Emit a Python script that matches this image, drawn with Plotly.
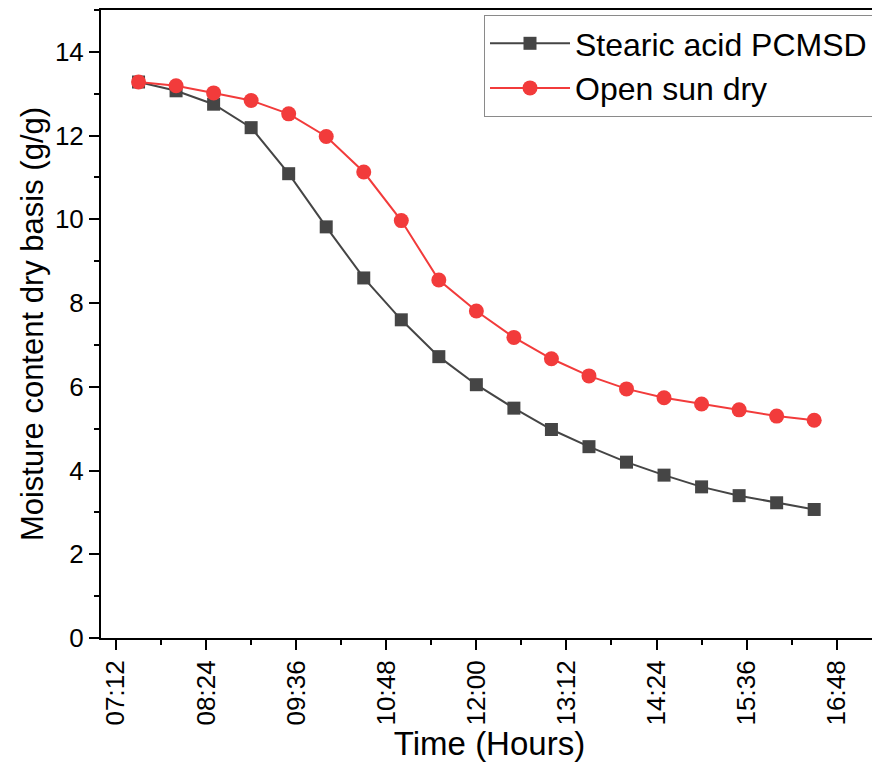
import plotly.graph_objects as go

times = ["07:30", "08:00", "08:30", "09:00", "09:30", "10:00", "10:30", "11:00", "11:30", "12:00",
         "12:30", "13:00", "13:30", "14:00", "14:30", "15:00", "15:30", "16:00", "16:30"]
stearic_pcmsd = [13.28, 13.07, 12.75, 12.19, 11.09, 9.82, 8.60, 7.60, 6.72, 6.05,
                 5.49, 4.98, 4.57, 4.20, 3.89, 3.61, 3.40, 3.23, 3.07]
open_sun = [13.28, 13.19, 13.02, 12.84, 12.52, 11.98, 11.13, 9.97, 8.55, 7.81,
            7.18, 6.67, 6.26, 5.95, 5.74, 5.59, 5.45, 5.30, 5.20]

DAY = "2020-01-01 "
x = [DAY + t for t in times]

FONT = "Liberation Sans, Arial, sans-serif"

fig = go.Figure()
fig.add_trace(go.Scatter(
    x=x, y=stearic_pcmsd, name="Stearic acid PCMSD", mode="lines+markers",
    line=dict(color="#454545", width=2),
    marker=dict(symbol="square", size=13, color="#454545"),
))
fig.add_trace(go.Scatter(
    x=x, y=open_sun, name="Open sun dry", mode="lines+markers",
    line=dict(color="#F23B3B", width=2),
    marker=dict(symbol="circle", size=15, color="#F23B3B"),
))

# page body has an 8px default margin, so the figure is sized/offset to compensate
fig.update_layout(
    width=872, height=761,
    margin=dict(l=93, r=2, t=2, b=131, autoexpand=False),
    paper_bgcolor="white", plot_bgcolor="white",
    font=dict(family=FONT, color="black"),
    showlegend=True,
    legend=dict(
        x=1 - 5 / 777, xanchor="right", y=1 - 5 / 628, yanchor="top",
        bgcolor="white", bordercolor="#8a8a8a", borderwidth=1,
        font=dict(size=32, family=FONT, color="black"),
        itemwidth=80, tracegroupgap=0,
    ),
)

fig.update_xaxes(
    type="date", automargin=False,
    range=[DAY + "07:00", DAY + "17:21"],
    tick0=DAY + "07:12", dtick=72 * 60 * 1000,
    tickformat="%H:%M", tickangle=-90,
    ticks="outside", ticklen=10, tickwidth=2, tickcolor="black",
    minor=dict(ticks="outside", ticklen=5, tickwidth=2, tickcolor="black", dtick=36 * 60 * 1000, showgrid=False),
    tickfont=dict(size=26, family=FONT, color="black"),
    showline=True, linewidth=2, linecolor="black", mirror=True,
    showgrid=False, zeroline=False,
    title=dict(text="Time (Hours)", font=dict(size=33, family=FONT, color="black"), standoff=6),
)
fig.update_yaxes(
    automargin=False,
    range=[0, 15], tick0=0, dtick=2,
    ticks="outside", ticklen=10, tickwidth=2, tickcolor="black",
    minor=dict(ticks="outside", ticklen=5, tickwidth=2, tickcolor="black", dtick=1, showgrid=False),
    tickfont=dict(size=26, family=FONT, color="black"),
    showline=True, linewidth=2, linecolor="black", mirror=True,
    showgrid=False, zeroline=False,
    title=dict(text="Moisture content dry basis (g/g)", font=dict(size=31, family=FONT, color="black"), standoff=2),
)

fig.write_html("out.html")
